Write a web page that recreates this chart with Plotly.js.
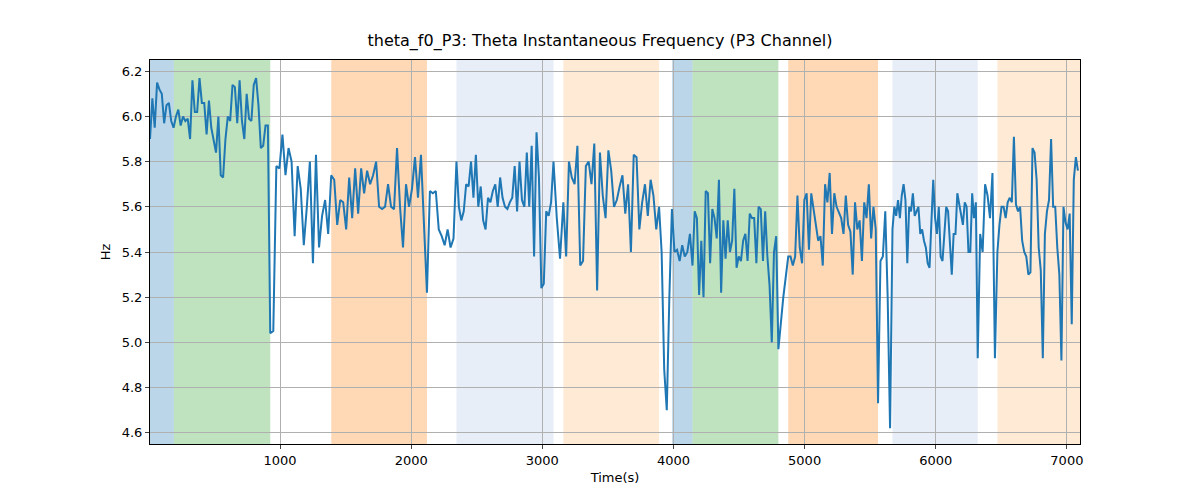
<!DOCTYPE html>
<html><head><meta charset="utf-8">
<script src="https://cdn.plot.ly/plotly-3.0.1.min.js"></script>
<style>body{margin:0}</style></head>
<body><div id="c" style="width:1200px;height:500px"></div>
<script>
// segment boundaries (time, s) and values per segment
const segBounds = [8,925,1390,2120,2345,3085,3160,3890,4145,4800,4875,5560,5670,6320,6470,7100];
const segValues = [
 [5.9,6.08,5.95,6.15,6.12,6.1,5.97,6.05,6.06,5.98,5.95,6.0,6.03,5.96,6.0,5.98,5.99,5.9,6.16,6.02,6.02,6.17,6.06,6.06,5.92,6.07,5.95,5.9,5.84,6.0,5.74,5.73,5.9,6.0,5.98,6.14,6.13,5.97,6.16,5.98,5.9,6.1,5.99,5.98,6.14,6.17,6.05,5.86,5.87,5.96,5.96],
 [5.04,5.05,5.78,5.77,5.92,5.74,5.86,5.8,5.47,5.78,5.68,5.43,5.6,5.8,5.35,5.83,5.42,5.56,5.63,5.48],
 [5.74,5.72,5.52,5.63,5.62,5.5,5.73,5.55,5.77,5.57,5.77,5.66,5.76,5.7,5.74,5.8,5.6,5.59,5.6,5.7,5.6,5.59,5.86,5.6,5.42,5.7,5.6,5.68,5.82,5.64,5.83,5.5],
 [5.22,5.67,5.66,5.67,5.5,5.47,5.43,5.5,5.42,5.46],
 [5.8,5.6,5.54,5.58,5.7,5.69,5.8,5.64,5.83,5.6,5.69,5.54,5.5,5.64,5.62,5.67,5.7,5.6,5.73,5.64,5.6,5.59,5.62,5.64,5.78,5.58,5.8,5.63,5.6,5.84,5.6,5.87,5.38,5.93,5.73,5.24,5.26,5.58,5.56,5.62],
 [5.8,5.55,5.37],
 [5.62,5.38,5.8,5.73,5.7,5.87,5.34,5.36,5.78,5.8,5.7,5.88,5.23,5.84,5.65,5.55,5.85,5.76,5.6,5.63,5.69,5.74,5.57,5.7,5.4,5.83,5.82,5.5,5.62,5.7,5.56,5.72,5.65,5.5],
 [5.6,5.4,4.88,4.7,5.2,5.59,5.4,5.41,5.36,5.43,5.38,5.4,5.48],
 [5.34,5.58,5.55,5.21,5.45,5.2,5.67,5.66,5.35,5.59,5.55,5.46,5.72,5.22,5.54,5.37,5.54,5.4,5.45,5.68,5.33,5.38,5.36,5.45,5.48,5.36,5.57,5.55,5.55,5.35,5.6,5.59,5.36,5.58,5.38,5.25,5.0,5.4,5.47],
 [4.97,5.2],
 [5.38,5.38,5.34,5.38,5.65,5.42,5.35,5.63,5.66,5.41,5.66,5.58,5.52,5.45,5.47,5.34,5.7,5.62,5.75,5.48,5.66,5.6,5.57,5.55,5.48,5.65,5.52,5.49,5.3,5.62,5.5,5.54,5.36,5.62,5.55,5.7,5.46,5.6,5.5],
 [4.73,5.36,5.38,5.58,5.2,4.62],
 [5.5,5.6,5.56,5.63,5.55,5.65,5.7,5.63,5.35,5.6,5.58,5.66,5.56,5.58,5.6,5.48,5.5,5.45,5.42,5.35,5.33,5.53,5.72,5.55,5.48,5.6,5.38,5.36,5.48,5.6,5.58,5.45,5.3,5.48,5.48,5.66,5.61,5.55,5.52,5.62,5.6,5.4,5.4,5.66,5.55,5.62],
 [4.93,5.48,5.4,5.7,5.65,5.55,5.75,4.93],
 [5.4,5.52,5.6,5.6,5.55,5.62,5.64,5.62,5.91,5.61,5.58,5.6,5.45,5.4,5.38,5.3,5.31,5.86,5.84,5.72,5.42,5.32,4.93,5.48,5.58,5.63,5.9,5.6,5.6,5.42,5.3,4.92,5.6,5.53,5.5,5.57,5.08,5.72,5.82,5.76]
];
// shaded epochs
const bandStart = [8,190,1390,2345,3160,3990,4145,4875,5670,6470];
const bandEnd   = [190,925,2120,3085,3890,4145,4800,5560,6320,7100];
const bandColor = ['rgba(31,119,180,0.3)','rgba(44,160,44,0.3)','rgba(255,127,14,0.3)','rgba(174,199,232,0.3)','rgba(255,187,120,0.3)',
                   'rgba(31,119,180,0.3)','rgba(44,160,44,0.3)','rgba(255,127,14,0.3)','rgba(174,199,232,0.3)','rgba(255,187,120,0.3)'];

const t=[], v=[];
segValues.forEach((vals,i)=>{
  const a=segBounds[i], b=segBounds[i+1], n=vals.length;
  vals.forEach((y,j)=>{ t.push(a+(b-a)*j/n); v.push(y); });
});
const shapes = bandStart.map((s,i)=>({type:'rect',xref:'x',yref:'paper',x0:s,x1:bandEnd[i],y0:0,y1:1,
  fillcolor:bandColor[i],line:{width:0},layer:'below'}));

Plotly.newPlot('c',[{x:t,y:v,type:'scatter',mode:'lines',line:{color:'#1f77b4',width:2}}],{
  width:1200,height:500,margin:{l:150,r:120,t:60,b:56},
  paper_bgcolor:'white',plot_bgcolor:'white',showlegend:false,
  title:{text:'theta_f0_P3: Theta Instantaneous Frequency (P3 Channel)',x:0.5,xanchor:'center',y:0.92,yanchor:'middle',
    font:{family:'DejaVu Sans',size:16,color:'black'}},
  font:{family:'DejaVu Sans',size:13,color:'black'},
  xaxis:{range:[8,7100],tickvals:[1000,2000,3000,4000,5000,6000,7000],showgrid:true,gridcolor:'#b0b0b0',
    zeroline:false,showline:true,mirror:true,linecolor:'black',ticks:'outside',ticklen:4,
    title:{text:'Time(s)',standoff:6,font:{size:13}}},
  yaxis:{range:[4.55,6.25],dtick:0.2,tickformat:'.1f',showgrid:true,gridcolor:'#b0b0b0',zeroline:false,
    showline:true,mirror:true,linecolor:'black',ticks:'outside',ticklen:4,title:{text:'Hz',standoff:8,font:{size:13}}},
  shapes:shapes
},{displayModeBar:false});
</script></body></html>
